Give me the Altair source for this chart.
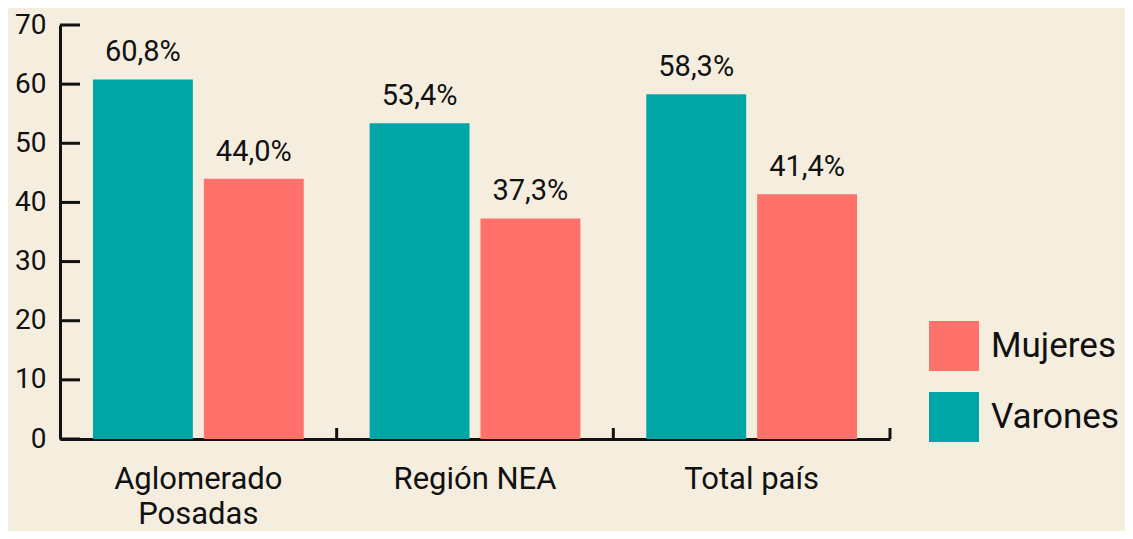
import altair as alt
import pandas as pd

categories = ["Aglomerado Posadas", "Región NEA", "Total país"]
series_order = ["Varones", "Mujeres"]
legend_order = ["Mujeres", "Varones"]
varones = [60.8, 53.4, 58.3]
mujeres = [44.0, 37.3, 41.4]
y_ticks = [0, 10, 20, 30, 40, 50, 60, 70]
series_colors = ["#FF716B", "#00A6A6"]  # Mujeres, Varones

FONT = "Roboto"
INK = "#111111"

rows = []
for c, v, m in zip(categories, varones, mujeres):
    rows.append({"cat": c, "sexo": "Varones", "val": v})
    rows.append({"cat": c, "sexo": "Mujeres", "val": m})
df = pd.DataFrame(rows)
df["label"] = df["val"].map(lambda x: f"{x:.1f}".replace(".", ",") + "%")

ticks_df = pd.DataFrame({"v": y_ticks})
cats_df = pd.DataFrame({"cat": categories})

xscale = alt.Scale(domain=categories, paddingInner=0, paddingOuter=0)
yscale = alt.Scale(domain=[0, 70], nice=False, zero=True)
xoff = alt.XOffset("sexo:N", sort=series_order,
                   scale=alt.Scale(domain=series_order, paddingInner=0.099, paddingOuter=0.297))

bars = alt.Chart(df).mark_bar().encode(
    x=alt.X("cat:N", scale=xscale, sort=categories,
            axis=alt.Axis(title=None, labelAngle=0, ticks=False, domain=True,
                          domainColor=INK, domainWidth=3, labelFont=FONT,
                          labelFontSize=31, labelColor=INK, labelPadding=25,
                          labelLineHeight=35, labelLimit=400,
                          labelExpr="datum.label == 'Aglomerado Posadas' ? split(datum.label, ' ') : datum.label")),
    xOffset=xoff,
    y=alt.Y("val:Q", scale=yscale,
            axis=alt.Axis(title=None, values=y_ticks, ticks=False, grid=False,
                          domain=True, domainColor=INK, domainWidth=3,
                          labelFont=FONT, labelFontSize=28, labelColor=INK,
                          labelPadding=14)),
    color=alt.Color("sexo:N",
                    scale=alt.Scale(domain=legend_order, range=series_colors),
                    legend=alt.Legend(title=None, orient="none", legendX=869, legendY=296,
                                      symbolType="square", symbolSize=2500,
                                      symbolStrokeWidth=0, symbolOpacity=1,
                                      labelFont=FONT, labelFontSize=35, labelLimit=400,
                                      labelColor=INK, rowPadding=21, labelOffset=12)),
)

text = alt.Chart(df).mark_text(baseline="alphabetic", dy=-18, font=FONT,
                               fontSize=29, color=INK).encode(
    x=alt.X("cat:N", scale=xscale, sort=categories),
    xOffset=xoff,
    y=alt.Y("val:Q", scale=yscale),
    text="label:N",
)

yticks = alt.Chart(ticks_df).mark_rule(color=INK, strokeWidth=3).encode(
    y=alt.Y("v:Q", scale=yscale),
    x=alt.value(0),
    x2=alt.value(20),
)

xticks = alt.Chart(cats_df).mark_rule(color=INK, strokeWidth=3).encode(
    x=alt.X("cat:N", scale=xscale, sort=categories, bandPosition=1),
    y=alt.value(403),
    y2=alt.value(414),
)

chart = alt.layer(bars, text, yticks, xticks).properties(
    width=830, height=414,
    autosize=alt.AutoSizeParams(type="none"),
    padding={"left": 52, "top": 17, "right": 235, "bottom": 92},
    background="#F5EEDF",
).configure_view(stroke=None)

chart.save("out.html", embed_options={"renderer": "svg", "actions": False})
